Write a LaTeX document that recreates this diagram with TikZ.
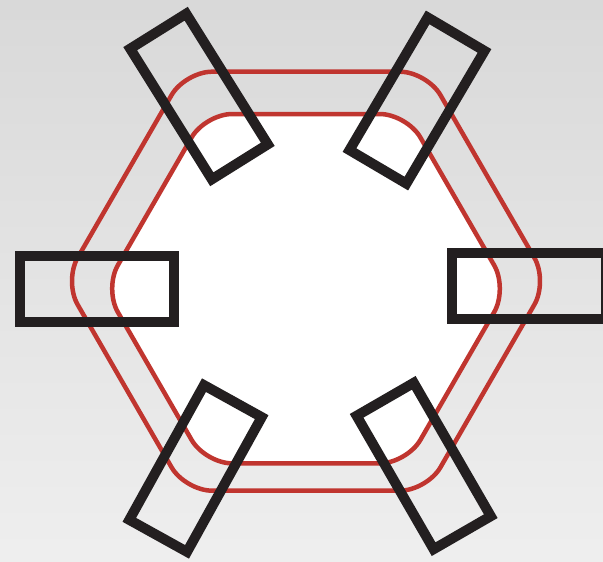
\documentclass[tikz,border=0pt]{standalone}
\usepackage{tikz}
\usetikzlibrary{calc,positioning}

\definecolor{ringred}{RGB}{192,53,47}
\definecolor{barblack}{RGB}{35,31,32}

\begin{document}
\begin{tikzpicture}[
        x=1pt, y=1pt,
        ring/.style={draw=ringred, line width=4.5pt, rounded corners=27pt},
        bar/.style={rectangle, draw=barblack, line width=10pt, minimum width=154pt, minimum height=66pt, inner sep=0pt}
    ]
        % Background
        \clip (0,0) rectangle (603,562);
        \shade[top color=gray!30, bottom color=gray!13] (0,0) rectangle (603,562);

        % Rings
        \coordinate (outerC) at (306,280.8);
        \coordinate (innerC) at (306,273.3);
        \draw [ring, shift={(outerC)}] (0:241.9) -- (60:241.9) -- (120:241.9) -- (180:241.9) -- (240:241.9) -- (300:241.9) -- cycle;
        \draw [ring, fill=white, shift={(innerC)}] (0:201.7) -- (60:201.7) -- (120:201.7) -- (180:201.7) -- (240:201.7) -- (300:201.7) -- cycle;

        % Bars
        \node (barL) [bar] at (97.2,273) {};
        \node (barR) [bar] at (529,276) {};
        \node (barTL) [bar, rotate=-58] at (199,465.5) {};
        \node (barTR) [bar, rotate=59.5] at (417,461.5) {};
        \node (barBL) [bar, rotate=61] at (195.5,93.5) {};
        \node (barBR) [bar, rotate=-60] at (423.7,96) {};
    \end{tikzpicture}
\end{document}
